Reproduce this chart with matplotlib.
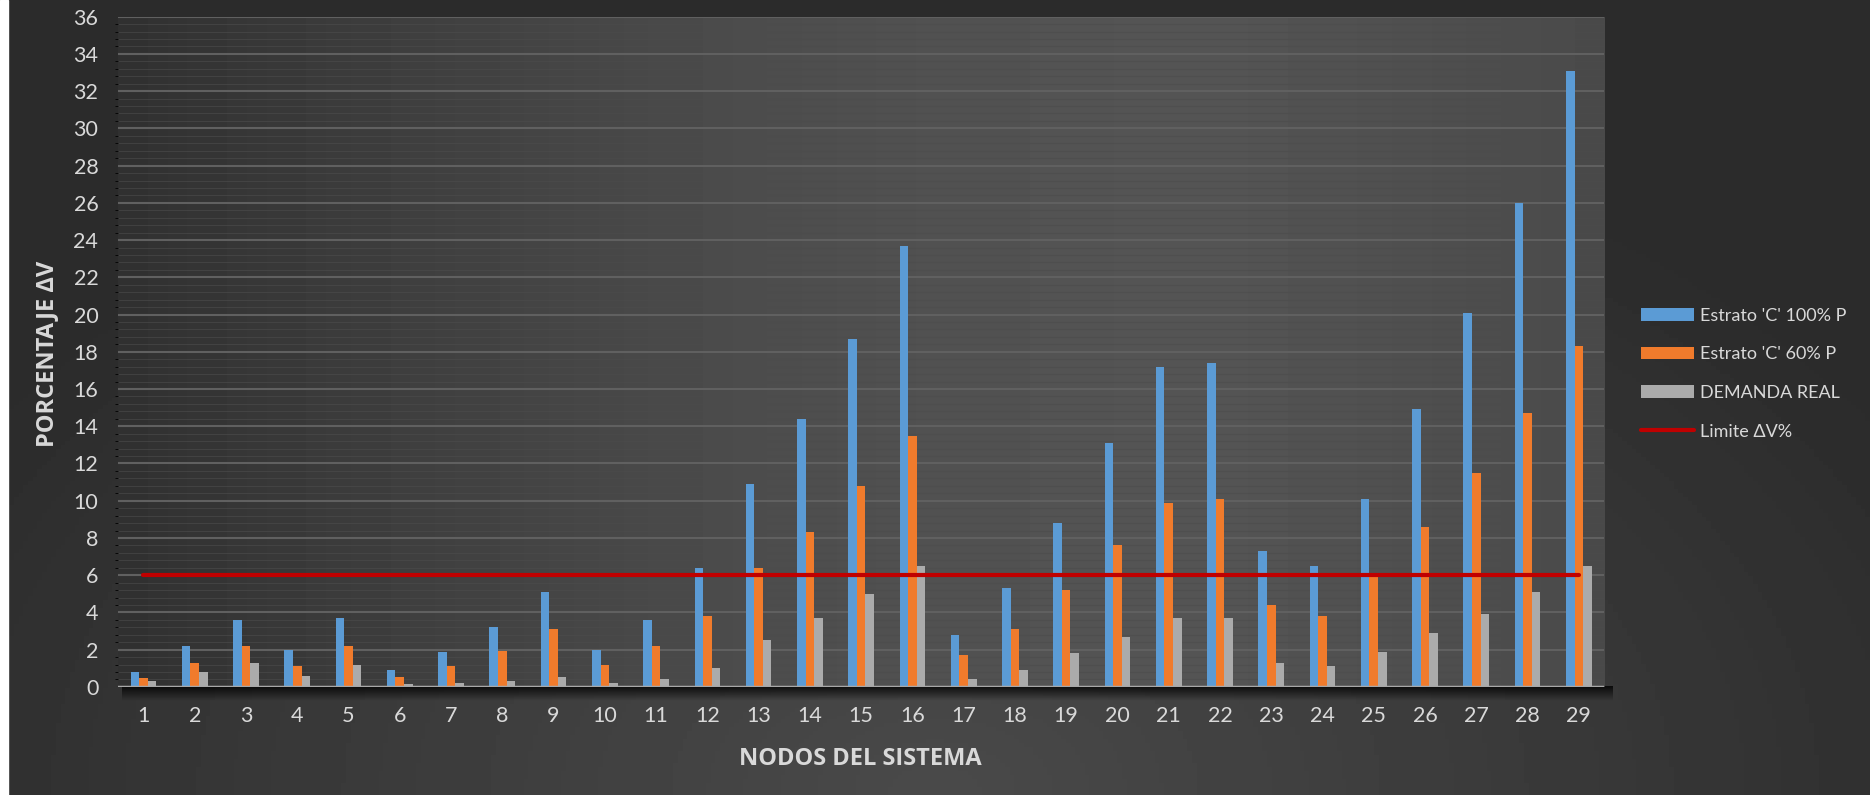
import numpy as np
import matplotlib.pyplot as plt
from matplotlib.patches import Rectangle

plt.rcParams['font.family'] = ['Lato', 'DejaVu Sans']

nodos = list(range(1, 30))
estrato_100 = [0.8, 2.2, 3.6, 2.0, 3.7, 0.9, 1.9, 3.2, 5.1, 2.0, 3.6, 6.4, 10.9, 14.4, 18.7,
               23.7, 2.8, 5.3, 8.8, 13.1, 17.2, 17.4, 7.3, 6.5, 10.1, 14.9, 20.1, 26.0, 33.1]
estrato_60 = [0.5, 1.3, 2.2, 1.1, 2.2, 0.55, 1.1, 1.95, 3.1, 1.2, 2.2, 3.8, 6.4, 8.3, 10.8,
              13.5, 1.7, 3.1, 5.2, 7.6, 9.9, 10.1, 4.4, 3.8, 5.9, 8.6, 11.5, 14.7, 18.3]
demanda_real = [0.3, 0.8, 1.3, 0.6, 1.2, 0.15, 0.2, 0.3, 0.55, 0.2, 0.4, 1.0, 2.5, 3.7, 5.0,
                6.5, 0.4, 0.9, 1.8, 2.7, 3.7, 3.7, 1.3, 1.1, 1.9, 2.9, 3.9, 5.1, 6.5]
limite = 6
y_ticks = list(range(0, 37, 2))

fig = plt.figure(figsize=(18.7, 7.95), dpi=100)
fig.patch.set_facecolor('#2e2e2e')

# background of the whole figure: lighter towards the bottom middle
bg = fig.add_axes([0, 0, 1, 1], zorder=-10)
gx, gy = np.meshgrid(np.linspace(0, 1, 400), np.linspace(0, 1, 200))
r = np.sqrt(((gx - 0.5) / 0.6) ** 2 + ((gy - 0.0) / 0.9) ** 2)
bg_shade = 0.17 + 0.12 * np.clip(1 - r, 0, 1)
bg.imshow(bg_shade, cmap='gray', vmin=0, vmax=1, aspect='auto',
          origin='lower', extent=[0, 1, 0, 1])
bg.set_xlim(0, 1)
bg.set_ylim(0, 1)
bg.axis('off')
bg.add_patch(Rectangle((0, 0), 8 / 1870, 1, color='white'))
# shadow under the plot area
sh = np.linspace(1, 0, 20).reshape(-1, 1)
bg.imshow(np.dstack([np.zeros((20, 1, 3)), sh[..., None] * 0.8]), aspect='auto',
          extent=[0.065, 0.862, 0.118, 0.136])

ax = fig.add_axes([0.063, 0.136, 0.795, 0.843])
ax.set_xlim(0.5, 29.5)
ax.set_ylim(0, 36)

# plot area gradient
px = np.linspace(0, 1, 300)
shade = 0.19 + 0.14 * np.sin(np.clip(px / 0.75, 0, 1) * np.pi / 2) - 0.04 * np.clip((px - 0.75) / 0.25, 0, 1)
shade = np.tile(shade, (50, 1))
ax.imshow(shade, cmap='gray', vmin=0, vmax=1, aspect='auto', extent=[0.5, 29.5, 0, 36],
          zorder=0)

ax.set_yticks(y_ticks)
ax.set_yticks(np.arange(0, 36.01, 0.4), minor=True)
ax.grid(axis='y', which='major', color='#606060', linewidth=1.5, zorder=1)
ax.grid(axis='y', which='minor', color='#4c4c4c', linewidth=0.8, alpha=0.6, zorder=1)
ax.set_axisbelow(True)

w = 0.167
x = np.array(nodos)
b1 = ax.bar(x - w, estrato_100, w, color='#5b9bd5', label="Estrato 'C' 100% P", zorder=3)
b2 = ax.bar(x, estrato_60, w, color='#f07b2c', label="Estrato 'C' 60% P", zorder=3)
b3 = ax.bar(x + w, demanda_real, w, color='#ababab', label='DEMANDA REAL', zorder=3)
ln, = ax.plot([nodos[0], nodos[-1]], [limite, limite], color='#c00000', linewidth=3,
              solid_capstyle='round', label='Limite ΔV%', zorder=4)
ax.axhline(0, color='#a8a8a8', linewidth=2.5, zorder=5)

ax.set_xticks(nodos)
ax.tick_params(axis='both', length=0, labelsize=15.5, colors='#d9d9d9')
ax.tick_params(axis='x', pad=14)
ax.tick_params(axis='y', pad=14)
for s in ax.spines.values():
    s.set_visible(False)

fig.text(0.025, 0.555, 'PORCENTAJE ΔV', rotation=90, ha='center', va='center',
         fontsize=17, fontweight='bold', color='#d9d9d9',
         family=['Open Sans', 'DejaVu Sans'])
fig.text(0.46, 0.045, 'NODOS DEL SISTEMA', ha='center', va='center',
         fontsize=17, fontweight='bold', color='#d9d9d9',
         family=['Open Sans', 'DejaVu Sans'])

leg = fig.legend([b1, b2, b3, ln], [b1.get_label(), b2.get_label(), b3.get_label(), ln.get_label()],
                 loc='center left', bbox_to_anchor=(0.869, 0.53), frameon=False,
                 fontsize=13, handlelength=2.9, handleheight=0.7, labelspacing=1.25,
                 handletextpad=0.35)
for t in leg.get_texts():
    t.set_color('#d9d9d9')

fig.savefig('out.png', dpi=100, facecolor=fig.get_facecolor())
